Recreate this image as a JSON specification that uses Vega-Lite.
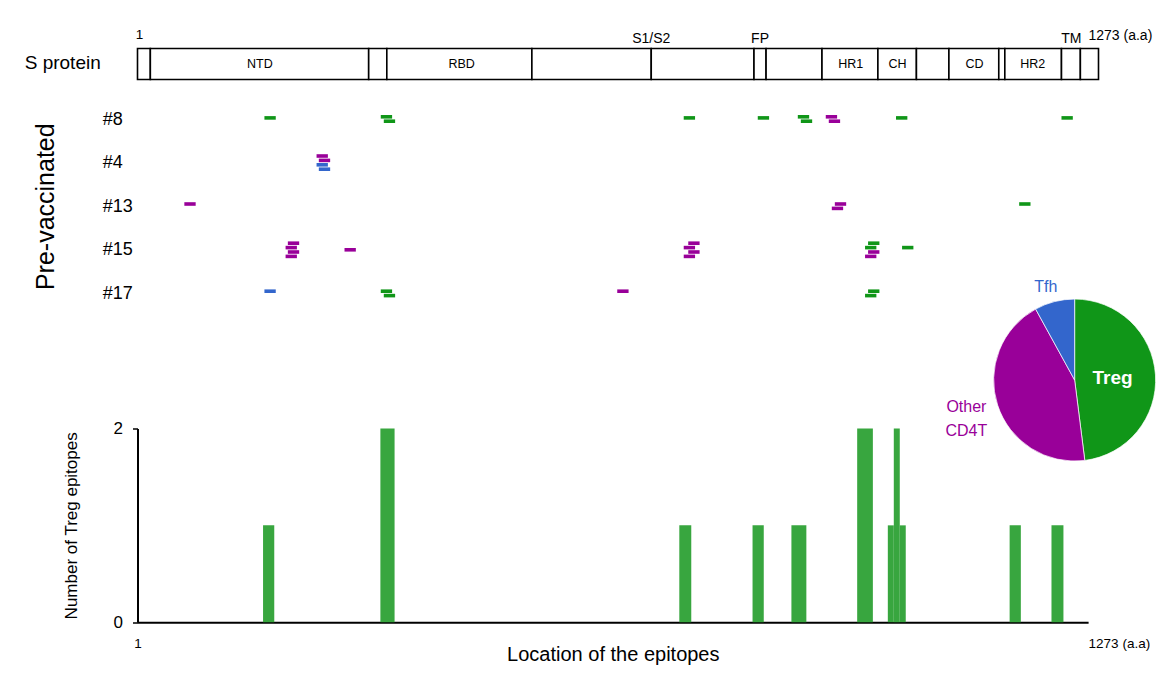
{
  "$schema": "https://vega.github.io/schema/vega-lite/v6.json",
  "autosize": {"type": "pad"},
  "padding": {"left": 24.5, "top": 27.5, "right": 4, "bottom": 4},
  "bounds": "flush",
  "spacing": 17,
  "resolve": {"scale": {"x": "independent"}},
  "config": {
    "view": {"stroke": null},
    "font": "Liberation Sans",
    "text": {"font": "Liberation Sans"},
    "axis": {"labelFont": "Liberation Sans", "titleFont": "Liberation Sans", "titleFontWeight": "normal", "labelColor": "#000", "titleColor": "#000", "domainColor": "#000", "tickColor": "#000", "grid": false}
  },
  "datasets": {
    "domains": [
      {"start": 1, "end": 18}, {"start": 18, "end": 307}, {"start": 307, "end": 331}, {"start": 331, "end": 523},
      {"start": 523, "end": 681}, {"start": 681, "end": 817}, {"start": 817, "end": 833}, {"start": 833, "end": 907},
      {"start": 907, "end": 981}, {"start": 981, "end": 1032}, {"start": 1032, "end": 1075}, {"start": 1075, "end": 1141},
      {"start": 1141, "end": 1149}, {"start": 1149, "end": 1224}, {"start": 1224, "end": 1249}, {"start": 1249, "end": 1273}
    ],
    "domainLabels": [
      {"pos": 163, "name": "NTD"}, {"pos": 430, "name": "RBD"}, {"pos": 945, "name": "HR1"},
      {"pos": 1007, "name": "CH"}, {"pos": 1109, "name": "CD"}, {"pos": 1186, "name": "HR2"}
    ],
    "sites": [
      {"pos": 681, "label": "S1/S2"}, {"pos": 825, "label": "FP"}, {"pos": 1237, "label": "TM"}
    ],
    "epitopes": [
      {"donor": "#8", "start": 169, "end": 184, "type": "Treg", "lane": -0.25},
      {"donor": "#8", "start": 323, "end": 338, "type": "Treg", "lane": -0.5},
      {"donor": "#8", "start": 327, "end": 342, "type": "Treg", "lane": 0.5},
      {"donor": "#8", "start": 724, "end": 739, "type": "Treg", "lane": -0.25},
      {"donor": "#8", "start": 822, "end": 837, "type": "Treg", "lane": -0.25},
      {"donor": "#8", "start": 875, "end": 890, "type": "Treg", "lane": -0.5},
      {"donor": "#8", "start": 879, "end": 894, "type": "Treg", "lane": 0.5},
      {"donor": "#8", "start": 912, "end": 927, "type": "Other CD4T", "lane": -0.5},
      {"donor": "#8", "start": 916, "end": 931, "type": "Other CD4T", "lane": 0.5},
      {"donor": "#8", "start": 1005, "end": 1020, "type": "Treg", "lane": -0.25},
      {"donor": "#8", "start": 1224, "end": 1239, "type": "Treg", "lane": -0.25},
      {"donor": "#4", "start": 238, "end": 253, "type": "Other CD4T", "lane": -1.5},
      {"donor": "#4", "start": 241, "end": 256, "type": "Other CD4T", "lane": -0.5},
      {"donor": "#4", "start": 238, "end": 253, "type": "Tfh", "lane": 0.5},
      {"donor": "#4", "start": 241, "end": 256, "type": "Tfh", "lane": 1.5},
      {"donor": "#13", "start": 63, "end": 78, "type": "Other CD4T", "lane": -0.5},
      {"donor": "#13", "start": 924, "end": 939, "type": "Other CD4T", "lane": -0.5},
      {"donor": "#13", "start": 920, "end": 935, "type": "Other CD4T", "lane": 0.5},
      {"donor": "#13", "start": 1168, "end": 1183, "type": "Treg", "lane": -0.5},
      {"donor": "#15", "start": 200, "end": 215, "type": "Other CD4T", "lane": -1.5},
      {"donor": "#15", "start": 197, "end": 212, "type": "Other CD4T", "lane": -0.5},
      {"donor": "#15", "start": 200, "end": 215, "type": "Other CD4T", "lane": 0.5},
      {"donor": "#15", "start": 197, "end": 212, "type": "Other CD4T", "lane": 1.5},
      {"donor": "#15", "start": 275, "end": 290, "type": "Other CD4T", "lane": 0},
      {"donor": "#15", "start": 730, "end": 745, "type": "Other CD4T", "lane": -1.5},
      {"donor": "#15", "start": 724, "end": 739, "type": "Other CD4T", "lane": -0.5},
      {"donor": "#15", "start": 730, "end": 745, "type": "Other CD4T", "lane": 0.5},
      {"donor": "#15", "start": 724, "end": 739, "type": "Other CD4T", "lane": 1.5},
      {"donor": "#15", "start": 968, "end": 983, "type": "Treg", "lane": -1.5},
      {"donor": "#15", "start": 964, "end": 979, "type": "Treg", "lane": -0.5},
      {"donor": "#15", "start": 968, "end": 983, "type": "Other CD4T", "lane": 0.5},
      {"donor": "#15", "start": 964, "end": 979, "type": "Other CD4T", "lane": 1.5},
      {"donor": "#15", "start": 1013, "end": 1028, "type": "Treg", "lane": -0.5},
      {"donor": "#17", "start": 169, "end": 184, "type": "Tfh", "lane": -0.5},
      {"donor": "#17", "start": 323, "end": 338, "type": "Treg", "lane": -0.5},
      {"donor": "#17", "start": 327, "end": 342, "type": "Treg", "lane": 0.5},
      {"donor": "#17", "start": 636, "end": 651, "type": "Other CD4T", "lane": -0.5},
      {"donor": "#17", "start": 968, "end": 983, "type": "Treg", "lane": -0.5},
      {"donor": "#17", "start": 964, "end": 979, "type": "Treg", "lane": 0.5}
    ],
    "hist": [
      {"start": 169, "end": 184, "count": 1},
      {"start": 326, "end": 345, "count": 2},
      {"start": 726, "end": 742, "count": 1},
      {"start": 824, "end": 839, "count": 1},
      {"start": 876, "end": 896, "count": 1},
      {"start": 964, "end": 985, "count": 2},
      {"start": 1005, "end": 1013, "count": 1},
      {"start": 1013, "end": 1021, "count": 2},
      {"start": 1021, "end": 1029, "count": 1},
      {"start": 1168, "end": 1183, "count": 1},
      {"start": 1224, "end": 1240, "count": 1}
    ],
    "pie": [
      {"type": "Treg", "pct": 48},
      {"type": "Other CD4T", "pct": 44},
      {"type": "Tfh", "pct": 8}
    ]
  },
  "vconcat": [
    {
      "width": 961, "height": 31,
      "layer": [
        {
          "data": {"name": "domains"},
          "mark": {"type": "rect", "fill": "white", "stroke": "black", "strokeWidth": 1.6},
          "encoding": {
            "x": {"field": "start", "type": "quantitative", "scale": {"domain": [1, 1273], "nice": false, "zero": false}, "axis": null},
            "x2": {"field": "end"}
          }
        },
        {
          "data": {"name": "domainLabels"},
          "mark": {"type": "text", "fontSize": 12.5, "fill": "black"},
          "encoding": {"x": {"field": "pos", "type": "quantitative", "scale": {"domain": [1, 1273], "nice": false, "zero": false}}, "text": {"field": "name"}}
        },
        {
          "data": {"name": "sites"},
          "mark": {"type": "text", "fontSize": 14, "dy": -25, "fill": "black"},
          "encoding": {"x": {"field": "pos", "type": "quantitative", "scale": {"domain": [1, 1273], "nice": false, "zero": false}}, "text": {"field": "label"}}
        },
        {
          "data": {"values": [{}]},
          "mark": {"type": "text", "fontSize": 13.5, "dy": -29, "dx": 2, "fill": "black"},
          "encoding": {"x": {"datum": 1, "scale": {"domain": [1, 1273], "nice": false, "zero": false}}, "text": {"value": "1"}}
        },
        {
          "data": {"values": [{}]},
          "mark": {"type": "text", "fontSize": 14, "dy": -28, "dx": -10, "align": "left", "fill": "black"},
          "encoding": {"x": {"datum": 1273, "scale": {"domain": [1, 1273], "nice": false, "zero": false}}, "text": {"value": "1273 (a.a)"}}
        },
        {
          "data": {"values": [{}]},
          "mark": {"type": "text", "fontSize": 19, "dx": -112.8, "dy": -1, "align": "left", "fill": "black"},
          "encoding": {"x": {"datum": 1, "scale": {"domain": [1, 1273], "nice": false, "zero": false}}, "text": {"value": "S protein"}}
        }
      ]
    },
    {
      "width": 961, "height": 315,
      "data": {"name": "epitopes"},
      "mark": {"type": "rule", "strokeWidth": 3.6, "strokeCap": "butt"},
      "encoding": {
        "x": {"field": "start", "type": "quantitative", "scale": {"domain": [1, 1273], "nice": false, "zero": false}, "axis": null},
        "x2": {"field": "end"},
        "y": {
          "field": "donor", "type": "ordinal", "sort": ["#8", "#4", "#13", "#15", "#17"],
          "scale": {"type": "point", "range": [22.5, 196.9], "padding": 0},
          "axis": {"title": "Pre-vaccinated", "titleFontSize": 25, "titlePadding": 44, "labelFontSize": 18, "labelAlign": "left", "labelPadding": 35.3, "ticks": false, "tickSize": 0, "domain": false}
        },
        "yOffset": {"field": "lane", "type": "quantitative", "scale": {"domain": [-2, 2], "range": [-8.8, 8.8]}},
        "color": {"field": "type", "type": "nominal", "scale": {"domain": ["Treg", "Other CD4T", "Tfh"], "range": ["#109618", "#990099", "#3366CC"]}, "legend": null}
      }
    },
    {
      "width": 950.6, "height": 193.7,
      "layer": [
        {
          "data": {"name": "hist"},
          "mark": {"type": "rect", "fill": "#38A63F"},
          "encoding": {
            "x": {
              "field": "start", "type": "quantitative", "scale": {"domain": [1, 1273], "nice": false, "zero": false},
              "axis": {"values": [1, 1273], "labelExpr": "datum.value == 1 ? '1' : '1273 (a.a)'", "labelAlign": {"condition": {"test": "datum.value == 1", "value": "center"}, "value": "left"}, "labelFlush": false, "labelOverlap": false, "ticks": false, "domainWidth": 2, "labelFontSize": 13.5, "labelPadding": 14, "title": "Location of the epitopes", "titleFontSize": 20, "titlePadding": -5}
            },
            "x2": {"field": "end"},
            "y": {
              "field": "count", "type": "quantitative", "scale": {"domain": [0, 2], "nice": false, "zero": false},
              "axis": {"values": [0, 1, 2], "format": "d", "title": "Number of Treg epitopes", "titleFontSize": 17, "titlePadding": 33, "labelFontSize": 17, "labelPadding": 10, "tickSize": 5, "tickWidth": 1.5, "domainWidth": 2}
            },
            "y2": {"datum": 0}
          }
        },
        {
          "data": {"name": "pie"},
          "mark": {"type": "arc", "outerRadius": 81, "stroke": "white", "strokeWidth": 0.7},
          "encoding": {
            "theta": {"field": "pct", "type": "quantitative", "stack": true},
            "order": {"field": "pct", "type": "quantitative", "sort": "descending"},
            "color": {"field": "type", "type": "nominal", "scale": {"domain": ["Treg", "Other CD4T", "Tfh"], "range": ["#109618", "#990099", "#3366CC"]}, "legend": null},
            "x": {"datum": 1255, "scale": {"domain": [1, 1273], "nice": false, "zero": false}},
            "y": {"datum": 2.5, "scale": {"domain": [0, 2], "nice": false, "zero": false}}
          }
        },
        {
          "data": {"name": "pie"},
          "mark": {"type": "text", "radius": 38, "fontSize": 19, "fontWeight": "bold", "fill": "white"},
          "encoding": {
            "theta": {"field": "pct", "type": "quantitative", "stack": true},
            "order": {"field": "pct", "type": "quantitative", "sort": "descending"},
            "text": {"condition": {"test": "datum.type === 'Treg'", "field": "type"}, "value": ""},
            "x": {"datum": 1255},
            "y": {"datum": 2.5}
          }
        },
        {
          "data": {"values": [{}]},
          "mark": {"type": "text", "radius": 97, "fontSize": 16, "fill": "#3366CC"},
          "encoding": {
            "theta": {"datum": 95.2},
            "text": {"value": "Tfh"},
            "x": {"datum": 1255},
            "y": {"datum": 2.5}
          }
        },
        {
          "data": {"values": [{}]},
          "mark": {"type": "text", "radius": 111.6, "fontSize": 16, "fill": "#990099", "lineHeight": 24},
          "encoding": {
            "theta": {"datum": 71.1},
            "text": {"value": ["Other", "CD4T"]},
            "x": {"datum": 1255},
            "y": {"datum": 2.5}
          }
        }
      ]
    }
  ]
}
